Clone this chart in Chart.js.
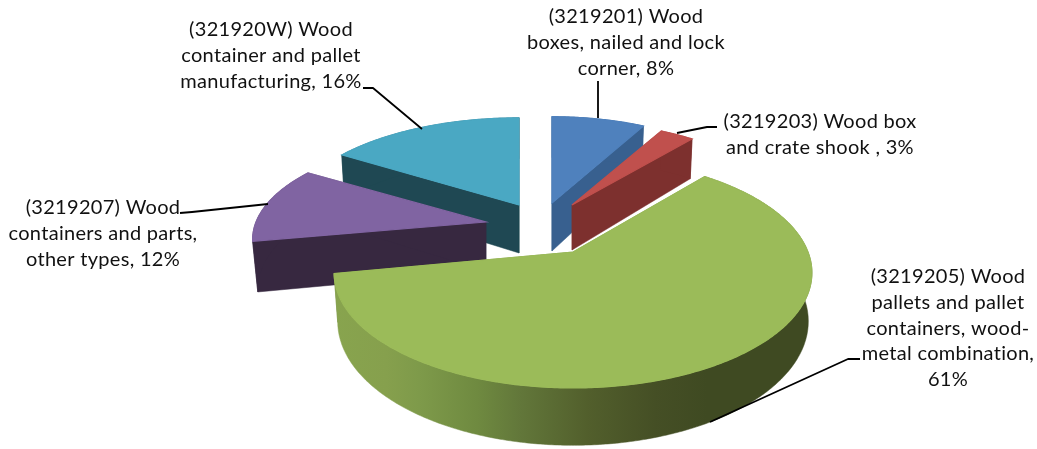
<!DOCTYPE html>
<html><head><meta charset="utf-8">
<style>html,body{margin:0;padding:0;background:#fff}canvas{display:block}</style>
<script src="https://cdn.jsdelivr.net/npm/chart.js@4"></script>
</head><body><canvas id="c" width="1037" height="449"></canvas>
<script>
const categories=["(3219201) Wood boxes, nailed and lock corner","(3219203) Wood box and crate shook","(3219205) Wood pallets and pallet containers, wood-metal combination","(3219207) Wood containers and parts, other types","(321920W) Wood container and pallet manufacturing"];
const shares=[8,3,61,12,16];
const topColors=["#4f81bd","#c0504d","#9bbb59","#8064a2","#4aa8c3"];
const wallColors=["#38608f","#7d302e","#6f883e","#372840","#1f4853"];
const labelLines=[["(3219201) Wood","boxes, nailed and lock","corner, 8%"],["(3219203) Wood box","and crate shook , 3%"],["(3219205) Wood","pallets and pallet","containers, wood-","metal combination,","61%"],["(3219207) Wood","containers and parts,","other types, 12%"],["(321920W) Wood","container and pallet","manufacturing, 16%"]];
// layout of the projected slices (apex, radii, perspective, depth)
const views=[
 {ax:552,ay:203,X:218,Y:101,p:.17,D:48,s:.985},
 {ax:572,ay:205,X:213,Y:97,p:.17,D:45,s:.985},
 {ax:573,ay:252,X:235,Y:111.5,p:.18,D:47,s:.985},
 {ax:486,ay:222,X:230,Y:100,p:.17,D:49,s:.978},
 {ax:519,ay:205,X:229,Y:102,p:.17,D:48,s:.985}];
const paintOrder=[0,4,1,3,2];
const labelPos=[{x:626,y:23},{x:820,y:128},{x:948,y:283},{x:103,y:214},{x:271,y:36}];
const leaders=[[[598,118],[598,81]],[[677,133],[707,127],[717,127]],[[710,422],[848,359],[860,359]],[[268,204],[192,212],[180,213]],[[422,129],[373,88],[363,88]]];
const greenWallStops=[[0,"#88a44e"],[.11,"#86a04d"],[.18,"#7e9a4a"],[.3,"#6f8a40"],[.39,"#62773a"],[.53,"#525f2c"],[.67,"#454f25"],[.78,"#3f4a22"],[1,"#3f4a22"]];

function proj(v,a,bottom){
  const u=Math.cos(a),t=Math.sin(a),w=1-v.p*t;
  const x=v.X*u/w,y=v.Y*t/w;
  if(!bottom) return [v.ax+x,v.ay+y];
  return [v.ax+x*v.s,v.ay+y+v.D/w];
}
function arcPts(v,a0,a1,bottom){
  const pts=[],n=Math.max(2,Math.ceil((a1-a0)/0.01));
  for(let i=0;i<=n;i++)pts.push(proj(v,a0+(a1-a0)*i/n,bottom));
  return pts;
}
function fillPoly(ctx,pts,fill,lw){
  ctx.beginPath();pts.forEach((p,i)=>i?ctx.lineTo(p[0],p[1]):ctx.moveTo(p[0],p[1]));ctx.closePath();
  ctx.fillStyle=fill;ctx.strokeStyle=fill;ctx.lineWidth=lw;ctx.fill();ctx.stroke();
}
const pie3d={id:'pie3d',
 beforeDatasetDraw(chart,args){
  const ctx=chart.ctx,arcs=args.meta.data;
  paintOrder.forEach(i=>{
   const el=arcs[i],v=views[i],a0=el.startAngle,a1=el.endAngle;
   const apT=[v.ax,v.ay],apB=[v.ax,v.ay+v.D];
   const top=arcPts(v,a0,a1,false),bot=arcPts(v,a0,a1,true);
   fillPoly(ctx,[apT,top[0],bot[0],apB],wallColors[i],.5);
   fillPoly(ctx,[apT,top[top.length-1],bot[bot.length-1],apB],wallColors[i],.5);
   let wall=wallColors[i];
   if(i===2){
     wall=ctx.createLinearGradient(v.ax-240,0,v.ax+240,0);
     greenWallStops.forEach(s=>wall.addColorStop(s[0],s[1]));
   }
   fillPoly(ctx,top.concat(bot.slice().reverse()),wall,.5);
   fillPoly(ctx,[apT].concat(top),topColors[i],1.2);
  });
  return false;
 },
 afterDraw(chart){
  const ctx=chart.ctx;
  ctx.save();
  ctx.strokeStyle="#000";ctx.lineWidth=1.8;ctx.lineJoin="round";
  leaders.forEach(l=>{ctx.beginPath();l.forEach((p,i)=>i?ctx.lineTo(p[0],p[1]):ctx.moveTo(p[0],p[1]));ctx.stroke();});
  ctx.fillStyle="#111";ctx.font='20px Lato';ctx.letterSpacing='0.3px';ctx.textAlign="center";ctx.textBaseline="alphabetic";
  labelLines.forEach((ls,i)=>ls.forEach((t,j)=>ctx.fillText(t,labelPos[i].x,labelPos[i].y+j*25.8)));
  ctx.restore();
 }};
new Chart(document.getElementById('c'),{
 type:'pie',
 data:{labels:categories,datasets:[{data:shares,backgroundColor:topColors,borderWidth:0}]},
 options:{responsive:false,animation:false,events:[],plugins:{legend:{display:false},tooltip:{enabled:false}}},
 plugins:[pie3d]
});
</script></body></html>
